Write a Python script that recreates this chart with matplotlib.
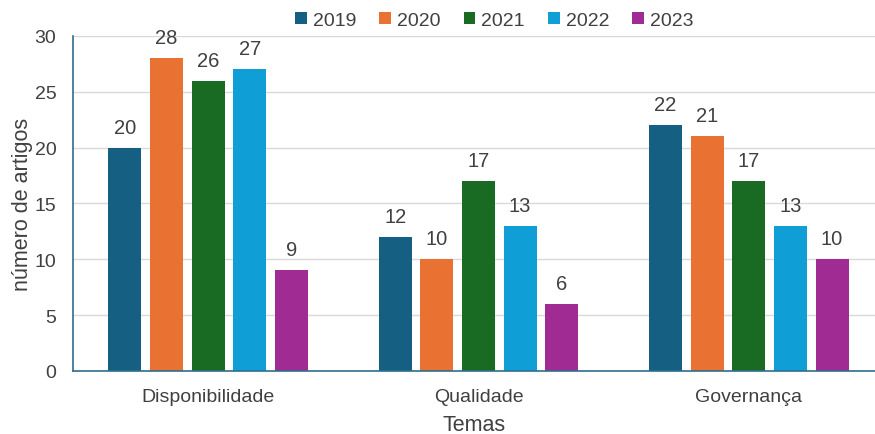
import matplotlib.pyplot as plt
import numpy as np

plt.rcParams['font.family'] = ['Liberation Sans', 'DejaVu Sans']

temas = ["Disponibilidade", "Qualidade", "Governança"]
anos = ["2019", "2020", "2021", "2022", "2023"]
v2019 = [20, 12, 22]
v2020 = [28, 10, 21]
v2021 = [26, 17, 17]
v2022 = [27, 13, 13]
v2023 = [9, 6, 10]
valores = [v2019, v2020, v2021, v2022, v2023]
cores = ["#156082", "#E97132", "#196B24", "#0F9ED5", "#A02B93"]

txt = "#404040"

fig = plt.figure(figsize=(8.75, 4.35), dpi=100)
ax = fig.add_axes([0.0834, 0.145, 0.9166, 0.77])

x = np.arange(len(temas))
passo = 0.154
largura = 0.122
for i, (ano, vals, cor) in enumerate(zip(anos, valores, cores)):
    pos = x + (i - 2) * passo
    bars = ax.bar(pos, vals, largura, color=cor, label=ano, zorder=3)
    for b, v in zip(bars, vals):
        ax.annotate(str(v), (b.get_x() + b.get_width() / 2, v),
                    xytext=(0, 8), textcoords="offset points",
                    ha="center", va="bottom", fontsize=14.5, color=txt)

ax.set_xlim(-0.5, 2.467)
ax.set_ylim(0, 30)
ax.set_yticks(range(0, 31, 5))
ax.set_xticks(x)
ax.set_xticklabels(temas)
ax.tick_params(axis="both", length=0, labelsize=14, colors=txt)
ax.tick_params(axis="x", pad=12)
ax.tick_params(axis="y", pad=12)
ax.grid(axis="y", color="#d9d9d9", linewidth=1, zorder=0)
for s in ["top", "right"]:
    ax.spines[s].set_visible(False)
for s in ["left", "bottom"]:
    ax.spines[s].set_color("#2E6E8E")
    ax.spines[s].set_linewidth(1.2)
    ax.spines[s].set_zorder(4)

ax.set_xlabel("Temas", fontsize=15.5, color=txt, labelpad=7)
ax.set_ylabel("número de artigos", fontsize=15.5, color=txt, labelpad=1)

fig.legend(loc="upper center", bbox_to_anchor=(0.565, 1.01), ncol=5, frameon=False,
           fontsize=14, handlelength=0.6, handleheight=0.6, handletextpad=0.3,
           columnspacing=1.2, labelcolor=txt)

fig.savefig("out.png", dpi=100)
